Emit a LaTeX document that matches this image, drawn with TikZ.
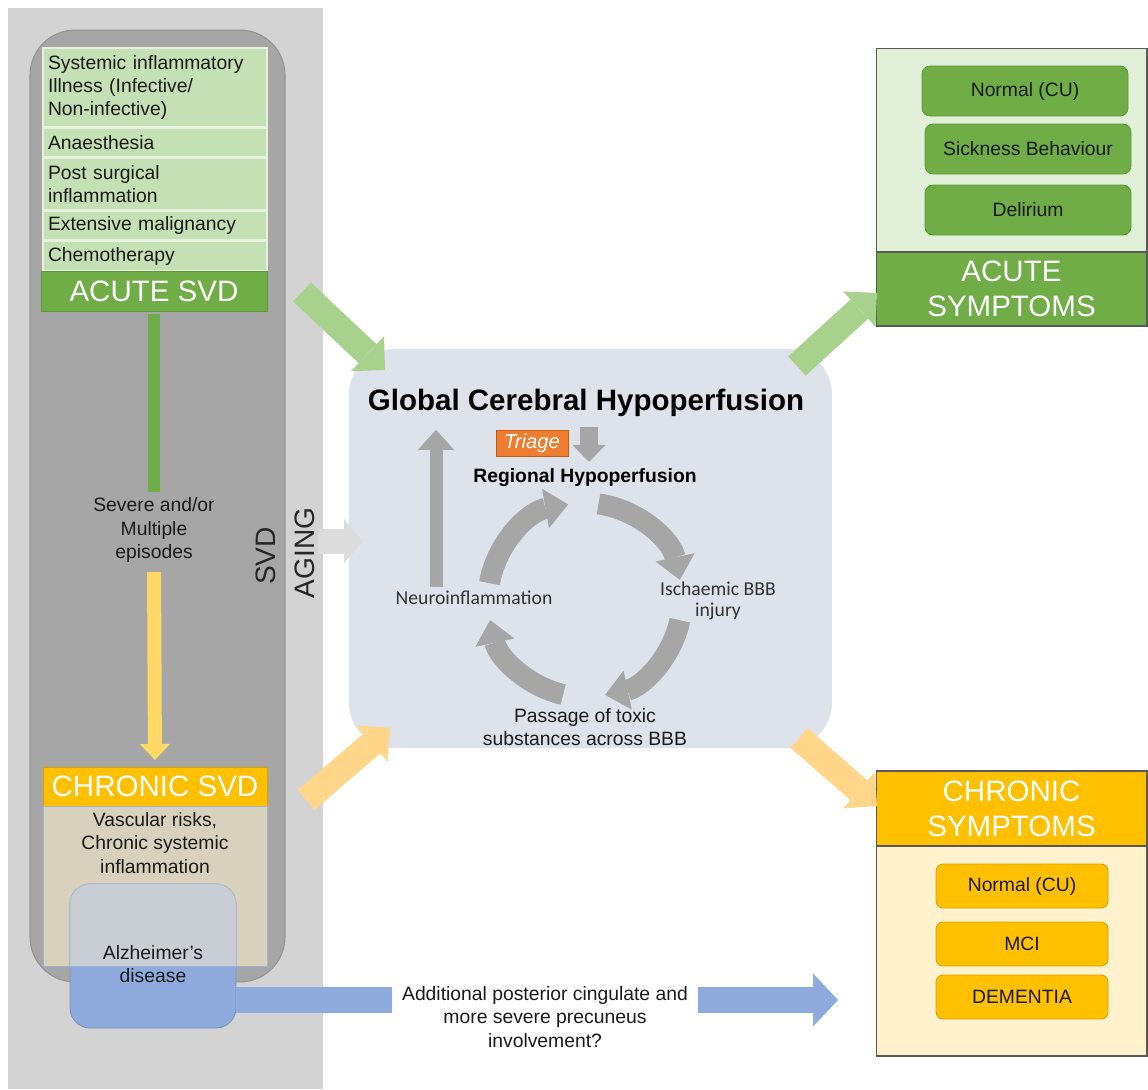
\documentclass[tikz,border=0pt]{standalone}
\usepackage{fontspec}
\setmainfont{Liberation Sans}
\newfontfamily\calfont{Carlito}
\usetikzlibrary{arrows.meta,calc}
\definecolor{agegray}{HTML}{D3D3D3}
\definecolor{svdgray}{HTML}{A6A6A6}
\definecolor{svdedge}{HTML}{939393}
\definecolor{lgreen}{HTML}{C5E0B4}
\definecolor{rowedge}{HTML}{E6F1DE}
\definecolor{mgreen}{HTML}{70AD47}
\definecolor{gedge}{HTML}{5E9A3A}
\definecolor{pgreen}{HTML}{E2F0D9}
\definecolor{arrgreen}{HTML}{A9D18E}
\definecolor{amber}{HTML}{FFC000}
\definecolor{yedge}{HTML}{D9A300}
\definecolor{pyellow}{HTML}{FFF2CC}
\definecolor{arryel}{HTML}{FFD966}
\definecolor{arrorange}{HTML}{FFD68A}
\definecolor{beige}{HTML}{D8D1BD}
\definecolor{beigeedge}{HTML}{A3B3CB}
\definecolor{alzblue}{HTML}{8FAADC}
\definecolor{alzedge}{HTML}{7A93BD}
\definecolor{alzmix}{HTML}{C9CED4}
\definecolor{cghfill}{HTML}{DEE2EB}
\definecolor{cyc}{HTML}{A6A6A6}
\definecolor{triagecol}{HTML}{ED7D31}
\definecolor{triageedge}{HTML}{C55A11}
\definecolor{txt}{HTML}{1A1A1A}
\definecolor{txtcal}{HTML}{333333}
\definecolor{paneledge}{HTML}{595959}
\definecolor{agearrow}{HTML}{DCDCDC}
\begin{document}
\begin{tikzpicture}[x=0.02cm,y=-0.02cm,
  every node/.style={inner sep=0pt, outer sep=0pt, text=txt},
  norm/.style={font=\fontsize{11}{13.2}\selectfont, align=center},
  cal/.style={font=\calfont\fontsize{11.2}{12}\selectfont, align=center, text=txtcal},
  bigw/.style={font=\fontsize{16.8}{20}\selectfont, text=white, align=center},
  row/.style={fill=lgreen, draw=rowedge, line width=0.8pt, minimum width=4.48cm, text width=4.28cm, align=left, font=\fontsize{11}{13.2}\selectfont},
  gbox/.style={fill=mgreen, draw=gedge, line width=0.5pt, rounded corners=0.16cm, minimum width=4.12cm, minimum height=1cm, font=\fontsize{11}{13.2}\selectfont},
  ybox/.style={fill=amber, draw=yedge, line width=0.5pt, rounded corners=0.14cm, minimum width=3.44cm, minimum height=0.88cm, font=\fontsize{11}{13.2}\selectfont},
  fat/.style={line width=0.52cm, -{Triangle[width=0.96cm,length=0.48cm,line width=0pt]}},
  cycarr/.style={draw=cyc, line width=0.42cm, -{Triangle[width=0.8cm,length=0.46cm,line width=0pt]}},
  greenbar/.style={draw=mgreen, line width=0.24cm, shorten <=0.06cm, shorten >=0.12cm},
  yarrow/.style={draw=arryel, line width=0.28cm, shorten <=0.2cm, shorten >=0.14cm, -{Triangle[width=0.6cm,length=0.32cm,line width=0pt]}},
  downarr/.style={draw=cyc, line width=0.36cm, shorten <=0.2cm, shorten >=0.14cm, -{Triangle[width=0.66cm,length=0.34cm,line width=0pt]}},
  uparr/.style={draw=cyc, line width=0.26cm, shorten <=0.08cm, shorten >=0.26cm, -{Triangle[width=0.72cm,length=0.4cm,line width=0pt]}},
  agearr/.style={draw=agearrow, line width=0.5cm, -{Triangle[width=0.88cm,length=0.38cm,line width=0pt]}},
  bluebar/.style={draw=alzblue, line width=0.52cm},
  bluearr/.style={draw=alzblue, line width=0.52cm, shorten >=0.76cm, -{Triangle[width=1.06cm,length=0.5cm,line width=0pt]}}
]
\useasboundingbox (0,0) rectangle (1148,1089);
% left panels
\node[fill=agegray, minimum width=6.3cm, minimum height=21.62cm] (agepanel) at (165.5,548.5) {};
\node[fill=svdgray, draw=svdedge, line width=0.6pt, rounded corners=0.9cm, minimum width=5.1cm, minimum height=19.04cm] (svdpanel) at (157.5,506) {};
% acute list
\node[row, minimum height=1.58cm] (r1) at (155,87.5) {Systemic inflammatory\\Illness (Infective/\\Non-infective)};
\node[row, minimum height=0.58cm] (r2) at (155,142.5) {Anaesthesia};
\node[row, minimum height=1.04cm] (r3) at (155,184) {Post surgical\\inflammation};
\node[row, minimum height=0.58cm] (r4) at (155,225.5) {Extensive malignancy};
\node[row, minimum height=0.60cm] (r5) at (155,256) {Chemotherapy};
\node[fill=mgreen, draw=gedge, line width=0.5pt, minimum width=4.52cm, minimum height=0.8cm, bigw] (acutesvd) at (154,291) {ACUTE SVD};
\node[norm] (severe) at (154,530) {Severe and/or\\Multiple\\episodes};
\draw[greenbar] (acutesvd.south) -- (severe.north);
\node[fill=amber, draw=yedge, line width=0.5pt, minimum width=4.48cm, minimum height=0.78cm, bigw] (chronicsvd) at (155,786.5) {CHRONIC SVD};
\draw[yarrow] (severe.south) -- (chronicsvd.north);
\node[fill=beige, draw=beigeedge, line width=0.5pt, minimum width=4.48cm, minimum height=3.2cm] (chronbox) at (155,886) {};
\node[fill=alzblue, draw=alzedge, line width=0.5pt, rounded corners=0.4cm, minimum width=3.32cm, minimum height=2.88cm] (alz) at (153,956) {};
\begin{scope}
  \clip (chronbox.north west) rectangle (chronbox.south east);
  \fill[alzmix, rounded corners=0.4cm] (alz.north west) rectangle (alz.south east);
  \draw[alzedge!60, line width=0.5pt, rounded corners=0.4cm] (alz.north west) rectangle (alz.south east);
\end{scope}
\draw[beigeedge, line width=0.5pt] (chronbox.north west) rectangle (chronbox.south east);
\node[norm] (vasc) at (155,843) {Vascular risks,\\Chronic systemic\\inflammation};
\node[norm] (alztext) at (153,964) {Alzheimer’s\\disease};
\node[rotate=90, font=\fontsize{16}{18}\selectfont, text=black!85] (svdl) at (266,556) {SVD};
\node[rotate=90, font=\fontsize{16}{18}\selectfont, text=black!85] (agel) at (305,553) {AGING};
% central box
\node[fill=cghfill, rounded corners=0.9cm, minimum width=9.66cm, minimum height=7.98cm] (cgh) at (590.5,548.5) {};
\node[font=\bfseries\fontsize{16.8}{20}\selectfont, text=black] (gtitle) at (586,403) {Global Cerebral Hypoperfusion};
\node[fill=triagecol, draw=triageedge, line width=0.5pt, minimum width=1.44cm, minimum height=0.52cm, text=white, font=\itshape\fontsize{11.5}{13}\selectfont] (triage) at (532,443) {Triage};
\node[font=\bfseries\fontsize{11}{13}\selectfont, text=black] (regional) at (585,478) {Regional Hypoperfusion};
\coordinate (dx) at ($(triage.east)+(21,0)$);
\draw[downarr] (gtitle.south -| dx) -- (regional.north -| dx);
\node[cal] (neuro) at (474,598) {Neuroinflammation};
\node[cal] (isch) at (718,601) {Ischaemic BBB\\injury};
\node[norm] (passage) at (585,727) {Passage of toxic\\substances across BBB};
\coordinate (ux) at ($(neuro.north)+(-38,0)$);
\draw[uparr] (ux) -- (ux |- gtitle.south);
\coordinate (cc) at (585,600);
\draw[cycarr] ($(cc)+(-82:97)$) arc[start angle=-82, end angle=-12, radius=97];
\draw[cycarr] ($(cc)+(12:97)$) arc[start angle=12, end angle=78, radius=97];
\draw[cycarr] ($(cc)+(103:97)$) arc[start angle=103, end angle=168, radius=97];
\draw[cycarr] ($(cc)+(190:97)$) arc[start angle=190, end angle=260, radius=97];
% right panels
\node[fill=pgreen, draw=paneledge, line width=0.6pt, minimum width=5.42cm, minimum height=5.56cm] (acutepanel) at (1011.5,187) {};
\node[fill=mgreen, draw=paneledge, line width=0.6pt, minimum width=5.42cm, minimum height=1.48cm, bigw] (acutebar) at (1011.5,289) {ACUTE\\SYMPTOMS};
\node[gbox] (aN) at (1025,91) {Normal (CU)};
\node[gbox] (aS) at (1028,149) {Sickness Behaviour};
\node[gbox] (aD) at (1028,210) {Delirium};
\node[fill=pyellow, draw=paneledge, line width=0.6pt, minimum width=5.42cm, minimum height=5.7cm] (chronpanel) at (1011.5,913.5) {};
\node[fill=amber, draw=paneledge, line width=0.6pt, minimum width=5.42cm, minimum height=1.5cm, bigw] (chronbar) at (1011.5,808.5) {CHRONIC\\SYMPTOMS};
\node[ybox] (cN) at (1022,886) {Normal (CU)};
\node[ybox] (cM) at (1022,944) {MCI};
\node[ybox] (cD) at (1022,997) {DEMENTIA};
% big arrows
\draw[fat, draw=arrgreen] ($(acutesvd.north east)+(35,21)$) -- ($(cgh.north west)+(36,21)$);
\draw[fat, draw=arrgreen] ($(cgh.north east)+(-35,17)$) -- ($(acutepanel.south west)+(1,-33)$);
\draw[fat, draw=arrorange] ($(chronicsvd.east)+(39,13.5)$) -- ($(cgh.south west)+(41,-20)$);
\draw[fat, draw=arrorange] ($(cgh.south east)+(-33,-10)$) -- ($(chronpanel.north west)+(1,35)$);
\draw[agearr] ($(agepanel.east)+(-5,-7.5)$) -- ($(cgh.west)+(14,-7.5)$);
% blue arrow
\node[norm, inner xsep=0.2cm] (addtext) at (545,1017) {Additional posterior cingulate and\\more severe precuneus\\involvement?};
\coordinate (bs) at ($(alz.south east)+(0,-28)$);
\draw[bluebar] (bs) -- (bs -| addtext.west);
\draw[bluearr] (bs -| addtext.east) -- (bs -| chronpanel.west);
\end{tikzpicture}
\end{document}
